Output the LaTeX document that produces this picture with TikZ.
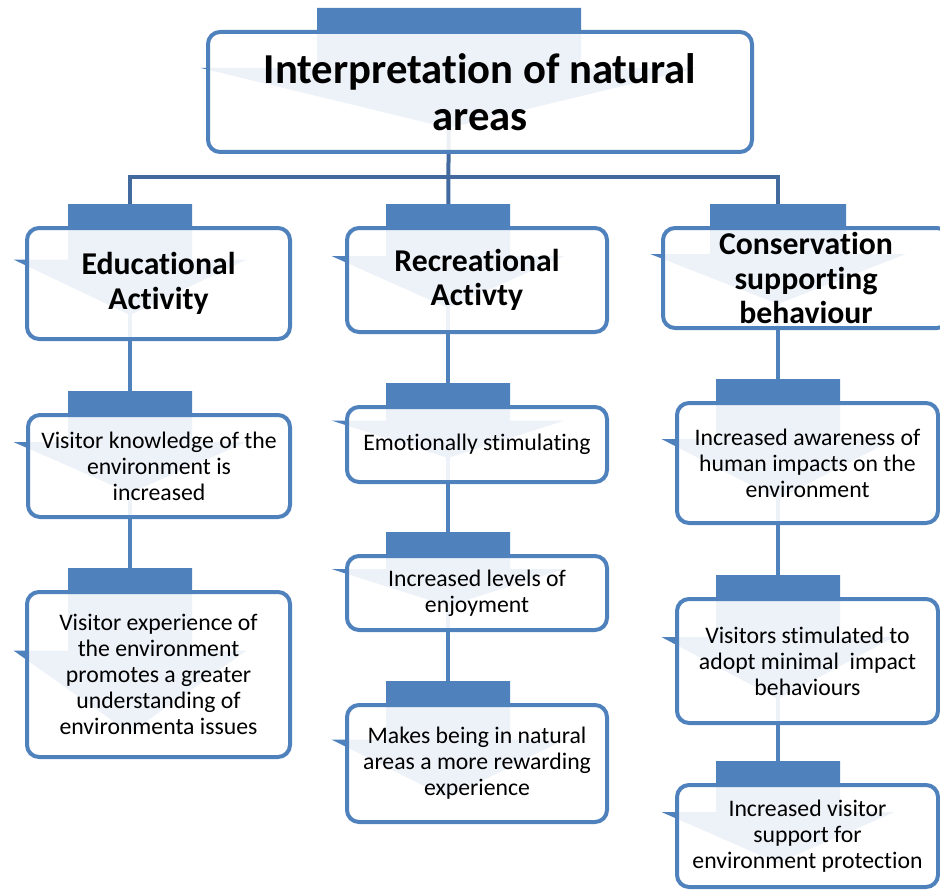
\documentclass[tikz,border=0pt]{standalone}
\usepackage{fontspec}
\setmainfont[Ligatures=NoCommon]{Carlito}
\usetikzlibrary{calc}
\definecolor{tabblue}{RGB}{79,129,189}
\definecolor{busblue}{RGB}{66,106,158}
\pgfdeclarelayer{back}
\pgfsetlayers{back,main}
\tikzset{
  tab-arrow/.style={fill=tabblue},
  card/.style={draw=tabblue, line width=3pt, fill=white, fill opacity=0.9, rounded corners=9pt},
  title-text/.style={font=\bfseries\fontsize{32}{35}\selectfont, align=center, inner sep=0pt},
  head-text/.style={font=\bfseries\fontsize{23.8}{26}\selectfont, align=center, inner sep=0pt},
  item-text/.style={font=\fontsize{17.8}{19.5}\selectfont, align=center, inner sep=0pt},
  link/.style={draw=tabblue, line width=3pt},
  bus-line/.style={draw=busblue, line width=3pt}
}
% #1 text style, #2 name, #3 left, #4 top, #5 right, #6 bottom, #7 tab centre, #8 tab half width, #9 text
\newcommand{\tabcard}[9]{
  \fill[tab-arrow] (#7-#8,#4-24) -- (#7+#8,#4-24) -- (#7+#8,{(#4+#6)/2-24})
    -- (#7+1.88*#8,{(#4+#6)/2-24}) -- (#7,#6-24) -- (#7-1.88*#8,{(#4+#6)/2-24})
    -- (#7-#8,{(#4+#6)/2-24}) -- cycle;
  \draw[card] (#3,#4) rectangle (#5,#6);
  \coordinate (#2-stem) at (#7,{(#4+#6)/2-24});
  \node[#1] (#2) at ({(#3+#5)/2},{(#4+#6)/2}) {#9};
}

\begin{document}
\begin{tikzpicture}[x=0.75pt, y=-0.75pt]
  \useasboundingbox (0,0) rectangle (940,892);
  \clip (0,0) rectangle (940,892);
  % Top of the tree
  \tabcard{title-text}{interp}{208}{32}{752}{152}{449}{132}{Interpretation of natural\\areas}
  % Three branches
  \tabcard{head-text}{edu}{27}{228}{290}{339}{130}{62}{Educational\\Activity}
  \tabcard{head-text}{rec}{347}{228}{607}{332}{448}{62}{Recreational\\Activty}
  \tabcard{head-text}{cons}{663}{228}{949}{328}{778}{68}{Conservation\\supporting\\behaviour}
  % Educational column
  \tabcard{item-text}{edu1}{28}{415}{290}{517}{130}{62}{Visitor knowledge of the\\environment is\\increased}
  \tabcard{item-text}{edu2}{27}{592}{290}{757}{130}{62}{Visitor experience of\\the environment\\promotes a greater\\understanding of\\environmenta issues}
  % Recreational column
  \tabcard{item-text}{rec1}{347}{407}{607}{482}{448}{62}{Emotionally stimulating}
  \tabcard{item-text}{rec2}{347}{556}{607}{630}{448}{62}{Increased levels of\\enjoyment}
  \tabcard{item-text}{rec3}{347}{705}{607}{822}{448}{62}{Makes being in natural\\areas a more rewarding\\experience}
  % Conservation column
  \tabcard{item-text}{cons1}{677}{403}{938}{523}{778}{62}{Increased awareness of\\human impacts on the\\environment}
  \tabcard{item-text}{cons2}{677}{599}{938}{723}{778}{62}{Visitors stimulated to\\adopt minimal\ \ impact\\behaviours}
  \tabcard{item-text}{cons3}{677}{785}{938}{887}{778}{62}{Increased visitor\\support for\\environment protection}
  % Connectors behind the cards
  \begin{pgfonlayer}{back}
    \coordinate (bus) at (448,177);
    \draw[bus-line] (interp-stem) -- (rec-stem);
    \draw[bus-line] (edu-stem) |- (bus) -| (cons-stem);
    \foreach \a/\b in {edu/edu1, edu1/edu2, rec/rec1, rec1/rec2, rec2/rec3, cons/cons1, cons1/cons2, cons2/cons3}
      \draw[link] (\a-stem) -- (\b-stem);
  \end{pgfonlayer}
\end{tikzpicture}
\end{document}
